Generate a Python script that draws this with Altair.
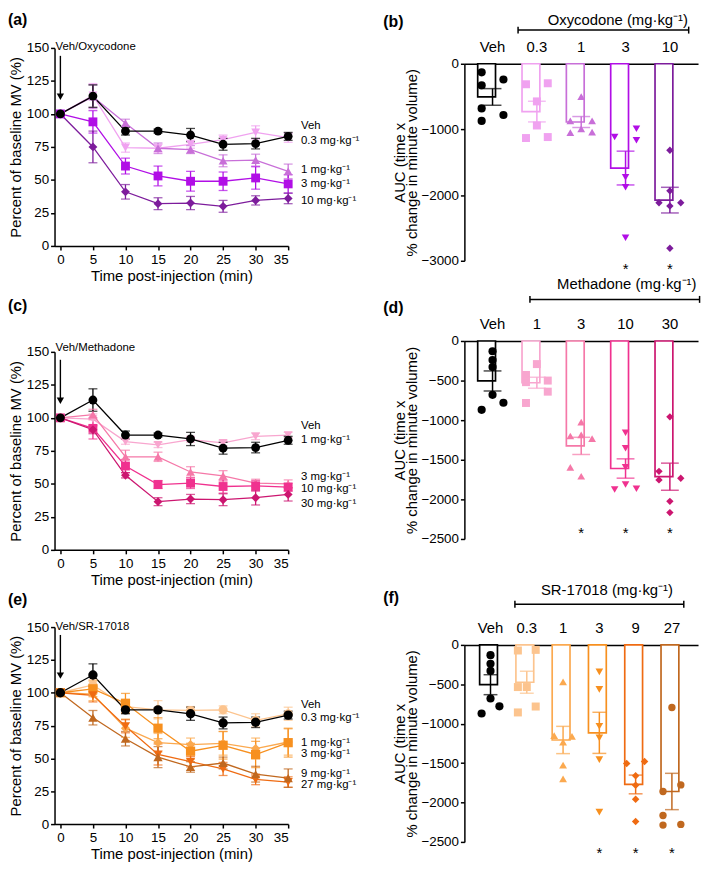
import altair as alt
import pandas as pd

FONT = "Liberation Sans"
UNIT = "mg\u00b7kg\u207b\u00b9"

# ---------------- time-course data (mean, SEM) ----------------
times = [0, 5, 10, 15, 20, 25, 30, 35]

veh_mean = [100, 113.5, 87, 87, 84, 77, 77.5, 83]
veh_sem = [0.8, 8.5, 3, 1.5, 5, 4.5, 4, 3]

oxy_03_mean = [100, 114, 74.5, 74, 77, 80.5, 86, 82]
oxy_03_sem = [1, 9, 3.5, 3, 3, 3.5, 5, 3.5]
oxy_1_mean = [100, 113, 93, 74, 73, 64.5, 65, 56.5]
oxy_1_sem = [1, 9, 3, 4, 3, 4.5, 4.5, 5.5]
oxy_3_mean = [100, 94, 60.5, 53, 49, 49, 51.5, 47]
oxy_3_sem = [1.5, 8.5, 6, 7.5, 7.5, 7, 8.5, 7]
oxy_10_mean = [100, 75, 41, 32, 32.5, 30, 34.5, 36]
oxy_10_sem = [1, 12, 5.5, 4.5, 5, 4.5, 3.5, 4]

met_1_mean = [100, 99, 82, 79.5, 83.5, 81, 86, 87]
met_1_sem = [1, 4, 2, 2, 2, 2, 2.5, 2]
met_3_mean = [100, 102.5, 70.5, 70.5, 59, 56, 50.5, 50]
met_3_sem = [1, 4, 5, 3.5, 4, 4, 3, 3]
met_10_mean = [100, 92, 63.5, 49.5, 50.5, 48, 48.5, 47.5]
met_10_sem = [1.5, 8, 5, 3, 4, 5, 4, 3]
met_30_mean = [100, 91, 56.5, 36.5, 38.5, 38, 39.5, 42]
met_30_sem = [1, 3, 2, 3, 3.5, 4.5, 5.5, 5]

sr_03_mean = [100, 106, 89.5, 87, 86.5, 87, 79, 84]
sr_03_sem = [1, 4, 5, 7, 3, 3, 5, 5]
sr_1_mean = [100, 99, 73, 62, 60.5, 61.5, 57.5, 62.5]
sr_1_sem = [1, 5, 7, 7, 5, 9, 8, 10]
sr_3_mean = [100, 103, 92, 73, 55.5, 60, 53, 62]
sr_3_sem = [1, 6, 7.5, 8, 6, 10.5, 10, 11]
sr_9_mean = [100, 98, 74.5, 53, 47.5, 42, 34, 32]
sr_9_sem = [1, 5, 5, 8, 4, 5, 4, 4]
sr_27_mean = [100, 81, 65, 51, 43.5, 46.5, 38, 35]
sr_27_sem = [1, 5.5, 5.5, 8, 4, 4.5, 6, 7]

# ---------------- AUC data (individual animals) ----------------
auc_veh = [-130, -240, -330, -680, -780, -870]

oxy_cats = ["Veh", "0.3", "1", "3", "10"]
oxy_auc = {
    "Veh": auc_veh,
    "0.3": [-312, -297, -573, -940, -1131, -1116],
    "1": [-502, -870, -870, -1050, -990, -1040],
    "3": [-1116, -990, -1166, -1729, -1879, -2648],
    "10": [-1317, -1935, -2116, -2116, -2166, -2809],
}
oxy_slots = {
    "Veh": [-1, 1, -1, -1, 1, -1],
    "0.3": [-1, 1, 0, 0, -1, 1],
    "1": [0, -1, 1, -1, 0, 1],
    "3": [-1, 1, 1, 0, 0, 0],
    "10": [0, 0, -1, 1, 0, 0],
}
oxy_sig = ["3", "10"]

met_cats = ["Veh", "1", "3", "10", "30"]
met_auc = {
    "Veh": auc_veh,
    "1": [-292, -429, -520, -500, -783, -640],
    "3": [-1025, -1200, -1187, -1233, -1596, -1708],
    "10": [-1158, -1354, -1596, -1875, -1812, -1867],
    "30": [-958, -1646, -1754, -1733, -2025, -2167],
}
met_slots = {
    "Veh": [0, 0, 0, 0, 1, -1],
    "1": [0, -1, -1, 1, -1, 1],
    "3": [0, -1, 0, 1, -1, 0],
    "10": [0, 0, 0, -1, 0, 1],
    "30": [0, -1, -1, 1, 0, 0],
}
met_sig = ["3", "10", "30"]

sr_cats = ["Veh", "0.3", "1", "3", "9", "27"]
sr_auc = {
    "Veh": auc_veh,
    "0.3": [-71, -63, -535, -535, -857, -782],
    "1": [-468, -1150, -1162, -1233, -1526, -1701],
    "3": [-343, -564, -1032, -1179, -1455, -2123],
    "9": [-1505, -1480, -1660, -1780, -1960, -2240],
    "27": [-794, -1860, -1777, -2165, -2287, -2278],
}
sr_slots = {
    "Veh": [0, 0, 0, 0, 1, -1],
    "0.3": [-1, 1, -1, 0, -1, 1],
    "1": [0, -1, 1, 0, 0, 0],
    "3": [0, 0, 0, 0, 0, 0],
    "9": [-1, 1, 0, 0, 0, 0],
    "27": [0, -1, 1, -1, -1, 1],
}
sr_sig = ["3", "9", "27"]

# colours
oxy_colors = ["#000000", "#f0a2f0", "#c86fd8", "#b10ee6", "#7d1c9c"]
met_colors = ["#000000", "#f8a6cf", "#f578a8", "#f0318f", "#cc1670"]
sr_colors = ["#000000", "#fcc48e", "#fba94f", "#f7901f", "#ef6b12", "#c0681f"]

SIZE = {"circle": 85, "square": 64, "triangle-up": 80, "triangle-down": 80, "diamond": 90}
BSIZE = {"circle": 68, "square": 55, "triangle-up": 70, "triangle-down": 70, "diamond": 80}

PW = 236  # plot width


def line_panel(letter, letter_y, drug_text, drug_y, names, means, sems, colors, shapes,
               labels, label_y, height):
    rows = []
    for n, m, s in zip(names, means, sems):
        for t, mv, sv in zip(times, m, s):
            rows.append(dict(t=t, grp=n, mean=mv, lo=mv - sv, hi=mv + sv))
    df = pd.DataFrame(rows)
    xs = alt.Scale(domain=[-0.9, 35], nice=False)
    ys = alt.Scale(domain=[0, 150], nice=False)
    xaxis = alt.Axis(values=times, title="Time post-injection (min)", labelFontSize=13.5,
                     titleFontSize=15, titleFontWeight="normal", tickSize=4, labelPadding=3,
                     titlePadding=2, labelAngle=0)
    yaxis = alt.Axis(values=[0, 25, 50, 75, 100, 125, 150], title="Percent of baseline MV (%)",
                     labelFontSize=13.5, titleFontSize=15, titleFontWeight="normal",
                     tickSize=4, labelPadding=2, titlePadding=3)

    def X(f):
        return alt.X(f + ":Q", scale=xs, axis=xaxis)

    def Y(f):
        return alt.Y(f + ":Q", scale=ys, axis=yaxis)

    color = alt.Color("grp:N", scale=alt.Scale(domain=names, range=colors), legend=None)
    shape = alt.Shape("grp:N", scale=alt.Scale(domain=names, range=shapes), legend=None)
    size = alt.Size("grp:N", scale=alt.Scale(domain=names, range=[SIZE[s] for s in shapes]),
                    legend=None)
    base = alt.Chart(df)
    lines = base.mark_line(strokeWidth=1.3).encode(x=X("t"), y=Y("mean"), color=color,
                                                   detail="grp:N", order="t:Q")
    err = base.mark_rule(strokeWidth=1.3).encode(x=X("t"), y=Y("lo"), y2=alt.Y2("hi"),
                                                 color=color)
    cap_lo = base.mark_tick(orient="horizontal", size=9, thickness=1.3).encode(
        x=X("t"), y=Y("lo"), color=color)
    cap_hi = base.mark_tick(orient="horizontal", size=9, thickness=1.3).encode(
        x=X("t"), y=Y("hi"), color=color)
    pts = base.mark_point(filled=True, opacity=1).encode(x=X("t"), y=Y("mean"), color=color,
                                                         shape=shape, size=size)

    lab_df = pd.DataFrame(dict(t=[times[-1]] * len(labels), y=label_y, txt=labels))
    labs = alt.Chart(lab_df).mark_text(align="left", baseline="middle", dx=13, fontSize=11.5,
                                       color="black").encode(x=X("t"), y=Y("y"), text="txt:N")

    arr_df = pd.DataFrame(dict(t=[0], top=[144], tip=[113], ty=[drug_y], txt=[drug_text]))
    arrow = alt.Chart(arr_df).mark_rule(strokeWidth=1.4, color="black").encode(
        x=X("t"), y=Y("top"), y2=alt.Y2("tip"))
    head = alt.Chart(arr_df).mark_point(shape="triangle-down", filled=True, size=55,
                                        color="black", opacity=1).encode(x=X("t"), y=Y("tip"))
    dtxt = alt.Chart(arr_df).mark_text(align="left", baseline="middle", dx=-5, fontSize=11.5,
                                       color="black").encode(x=X("t"), y=Y("ty"), text="txt:N")
    let_df = pd.DataFrame(dict(txt=[letter]))
    let = alt.Chart(let_df).mark_text(align="left", baseline="middle", fontSize=16,
                                      fontWeight="bold", color="black").encode(
        x=alt.value(-47), y=alt.value(letter_y), text="txt:N")
    return alt.layer(lines, err, cap_lo, cap_hi, pts, labs, arrow, head, dtxt, let).properties(
        width=PW, height=height)


def bar_panel(letter, letter_y, title, title_x, title_y, bracket_y, bracket_off, cats, auc,
              slots, colors, shapes, ydom, yvals, sig, star_y, pad_in, pad_out, jit, cap,
              height, label_pad):
    rows = []
    for c in cats:
        for v, s in zip(auc[c], slots[c]):
            rows.append(dict(cat=c, val=v, slot=s))
    df = pd.DataFrame(rows)
    xs = alt.Scale(domain=cats, paddingInner=pad_in, paddingOuter=pad_out)
    step = PW / (len(cats) - pad_in + 2 * pad_out)
    half_bw = step * (1 - pad_in) / 2
    xaxis = alt.Axis(orient="top", title=None, ticks=False, labelAngle=0, labelFontSize=15,
                     labelPadding=label_pad)
    ys = alt.Scale(domain=ydom, nice=False)
    yaxis = alt.Axis(values=yvals, format="d", title=["AUC (time x", "% change in minute volume)"],
                     titleLineHeight=13, labelFontSize=13.5, titleFontSize=15,
                     titleFontWeight="normal", tickSize=4, labelPadding=2, titlePadding=1)

    def X(f, **kw):
        return alt.X(f + ":N", scale=xs, axis=xaxis, sort=cats, **kw)

    def Y(f):
        return alt.Y(f + ":Q", scale=ys, axis=yaxis)

    color = alt.Color("cat:N", scale=alt.Scale(domain=cats, range=colors), legend=None)
    stroke = alt.Stroke("cat:N", scale=alt.Scale(domain=cats, range=colors), legend=None)
    shape = alt.Shape("cat:N", scale=alt.Scale(domain=cats, range=shapes), legend=None)
    size = alt.Size("cat:N", scale=alt.Scale(domain=cats, range=[BSIZE[s] for s in shapes]),
                    legend=None)
    base = alt.Chart(df)
    bars = base.mark_bar(fill="white", strokeWidth=1.7).encode(
        x=X("cat"), y=alt.Y("mean(val):Q", scale=ys, axis=yaxis), stroke=stroke)
    pts = base.mark_point(filled=True, opacity=1).encode(
        x=X("cat"),
        xOffset=alt.XOffset("slot:Q", scale=alt.Scale(domain=[-1, 1],
                                                      range=[half_bw - jit, half_bw + jit])),
        y=Y("val"), color=color, shape=shape, size=size)
    agg = base.transform_aggregate(m="mean(val)", se="stderr(val)", groupby=["cat"]) \
        .transform_calculate(lo="datum.m - datum.se", hi="datum.m + datum.se")
    err = agg.mark_rule(strokeWidth=1.5).encode(x=X("cat"), y=Y("lo"), y2=alt.Y2("hi"),
                                                color=color)
    c_lo = agg.mark_tick(orient="horizontal", size=cap, thickness=1.5).encode(
        x=X("cat"), y=Y("lo"), color=color)
    c_hi = agg.mark_tick(orient="horizontal", size=cap, thickness=1.5).encode(
        x=X("cat"), y=Y("hi"), color=color)
    sig_df = pd.DataFrame(dict(cat=sig, y=[star_y] * len(sig)))
    stars = alt.Chart(sig_df).mark_text(text="*", fontSize=15, baseline="middle",
                                        color="black").encode(x=X("cat"), y=Y("y"))
    br_df = pd.DataFrame(dict(start=[cats[1]], end=[cats[-1]], lab=[title], let=[letter]))
    br = alt.Chart(br_df).mark_rule(strokeWidth=1.5, color="black", xOffset=bracket_off[0],
                                    x2Offset=bracket_off[1]).encode(
        x=X("start"), x2=alt.X2("end"), y=alt.value(bracket_y))
    br_l = alt.Chart(br_df).mark_rule(strokeWidth=1.5, color="black",
                                      xOffset=bracket_off[0]).encode(
        x=X("start"), y=alt.value(bracket_y - 3.5), y2=alt.value(bracket_y + 3.5))
    br_r = alt.Chart(br_df).mark_rule(strokeWidth=1.5, color="black",
                                      xOffset=bracket_off[1]).encode(
        x=X("end"), y=alt.value(bracket_y - 3.5), y2=alt.value(bracket_y + 3.5))
    ttl = alt.Chart(br_df).mark_text(fontSize=15, baseline="middle", color="black").encode(
        x=alt.value(title_x), y=alt.value(title_y), text="lab:N")
    let = alt.Chart(br_df).mark_text(align="left", baseline="middle", fontSize=16,
                                     fontWeight="bold", color="black").encode(
        x=alt.value(-82), y=alt.value(letter_y), text="let:N")
    return alt.layer(bars, pts, err, c_lo, c_hi, stars, br, br_l, br_r, ttl, let).properties(
        width=PW, height=height)


def spacer(h):
    return alt.Chart(alt.Data(values=[{"s": 0}])).mark_point(opacity=0).encode(
        x=alt.value(0), y=alt.value(0)).properties(width=PW, height=h)


pa = line_panel(
    "(a)", -28, "Veh/Oxycodone", 151,
    ["0.3", "1", "3", "10", "Veh"],
    [oxy_03_mean, oxy_1_mean, oxy_3_mean, oxy_10_mean, veh_mean],
    [oxy_03_sem, oxy_1_sem, oxy_3_sem, oxy_10_sem, veh_sem],
    ["#f0a2f0", "#c86fd8", "#b10ee6", "#7d1c9c", "#000000"],
    ["triangle-down", "triangle-up", "square", "diamond", "circle"],
    ["Veh", "0.3 " + UNIT, "1 " + UNIT, "3 " + UNIT, "10 " + UNIT],
    [90.5, 79.7, 57.2, 47.2, 34.2], 200)

pc = line_panel(
    "(c)", -46, "Veh/Methadone", 153,
    ["1", "3", "10", "30", "Veh"],
    [met_1_mean, met_3_mean, met_10_mean, met_30_mean, veh_mean],
    [met_1_sem, met_3_sem, met_10_sem, met_30_sem, veh_sem],
    ["#f8a6cf", "#f578a8", "#f0318f", "#cc1670", "#000000"],
    ["triangle-down", "triangle-up", "square", "diamond", "circle"],
    ["Veh", "1 " + UNIT, "3 " + UNIT, "10 " + UNIT, "30 " + UNIT],
    [93.7, 83, 55, 46.3, 35], 200)

pe = line_panel(
    "(e)", -27, "Veh/SR-17018", 150,
    ["0.3", "1", "3", "9", "27", "Veh"],
    [sr_03_mean, sr_1_mean, sr_3_mean, sr_9_mean, sr_27_mean, veh_mean],
    [sr_03_sem, sr_1_sem, sr_3_sem, sr_9_sem, sr_27_sem, veh_sem],
    ["#fcc48e", "#fba94f", "#f7901f", "#ef6b12", "#c0681f", "#000000"],
    ["circle", "diamond", "square", "triangle-down", "triangle-up", "circle"],
    ["Veh", "0.3 " + UNIT, "1 " + UNIT, "3 " + UNIT, "9 " + UNIT, "27 " + UNIT],
    [90.5, 80.7, 61.8, 53, 37.9, 29.4], 199)

pb = bar_panel(
    "(b)", -42.5, "Oxycodone (" + UNIT + ")", 155, -44, -34, (-19, 19),
    oxy_cats, oxy_auc, oxy_slots, oxy_colors,
    ["circle", "square", "triangle-up", "triangle-down", "diamond"],
    [-3000, 0], [0, -1000, -2000, -3000], oxy_sig, -3120, 0.33, 0.3, 11, 18, 199, 9)

pdd = bar_panel(
    "(d)", -33, "Methadone (" + UNIT + ")", 164, -57, -42, (-7, 30),
    met_cats, met_auc, met_slots, met_colors,
    ["circle", "square", "triangle-up", "triangle-down", "diamond"],
    [-2500, 0], [0, -500, -1000, -1500, -2000, -2500], met_sig, -2425, 0.33, 0.3, 11, 18, 200,
    10)

pf = bar_panel(
    "(f)", -47, "SR-17018 (" + UNIT + ")", 144, -55, -41, (-12, 12),
    sr_cats, sr_auc, sr_slots, sr_colors,
    ["circle", "square", "triangle-up", "triangle-down", "diamond", "circle"],
    [-2500, 0], [0, -500, -1000, -1500, -2000, -2500], sr_sig, -2640, 0.4, 0.42, 9, 14, 199,
    10)

RES = dict(color="independent", shape="independent", size="independent",
           stroke="independent", xOffset="independent")

left = alt.vconcat(pa, spacer(107), pc, spacer(78), pe, spacing=0,
                   bounds="flush").resolve_scale(**RES)
right = alt.vconcat(spacer(16), pb, spacer(81), pdd, spacer(107), pf, spacing=0,
                    bounds="flush").resolve_scale(**RES)

chart = alt.hconcat(left, right, spacing=24).resolve_scale(**RES).properties(
    padding={"left": 0, "top": 0, "right": 0, "bottom": 0}
).configure(font=FONT).configure_view(stroke=None).configure_axis(
    domainColor="black", tickColor="black", labelColor="black", titleColor="black",
    domainWidth=1.5, tickWidth=1.5, grid=False, labelFont=FONT, titleFont=FONT,
    titleFontWeight="normal"
).configure_text(font=FONT)

chart.save("out.html", embed_options={"renderer": "svg", "actions": False})
